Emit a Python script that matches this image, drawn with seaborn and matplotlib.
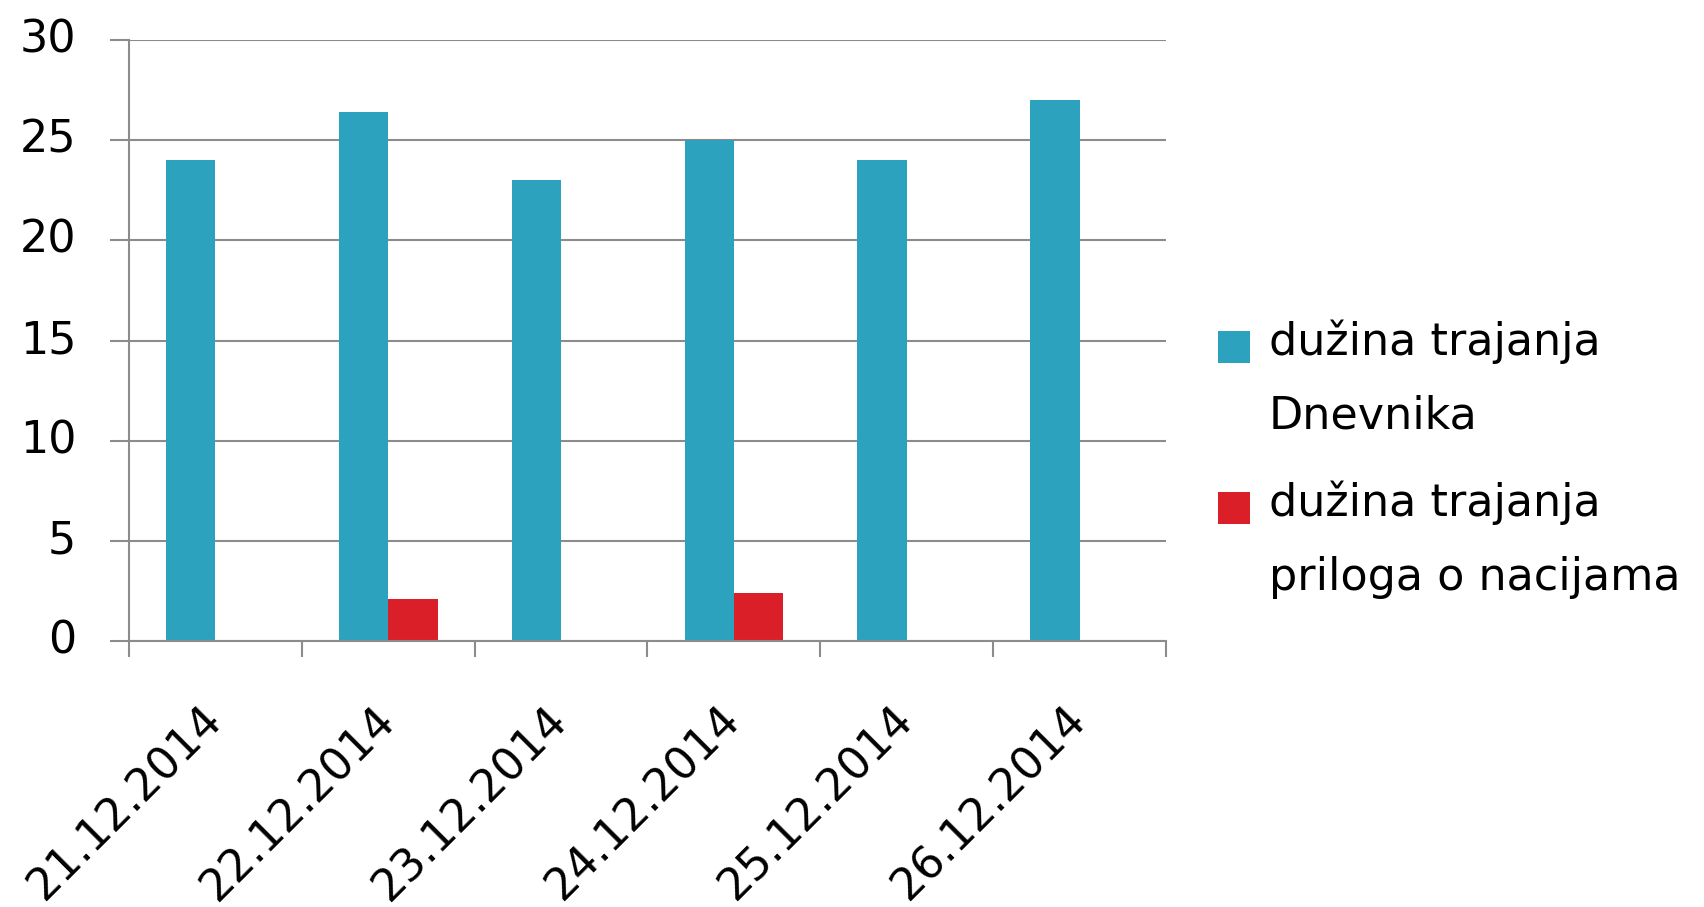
import numpy as np
import pandas as pd
import matplotlib
matplotlib.use("Agg")
import matplotlib.pyplot as plt
import seaborn as sns

dates = ["21.12.2014", "22.12.2014", "23.12.2014", "24.12.2014", "25.12.2014", "26.12.2014"]
series_names = ["dužina trajanja\nDnevnika", "dužina trajanja\npriloga o nacijama"]
dnevnik = [24, 26.4, 23, 25, 24, 27]
prilozi = [0, 2.1, 0, 2.4, 0, 0]
yticks = [0, 5, 10, 15, 20, 25, 30]

colors = ["#2DA2BF", "#DA1F28"]
grid_c = "#8C8C8C"

df = pd.DataFrame({
    "date": dates * 2,
    "series": [series_names[0]] * len(dates) + [series_names[1]] * len(dates),
    "value": dnevnik + prilozi,
})

sns.set_theme(style="white")
plt.rcParams["font.family"] = ["DejaVu Sans"]
plt.rcParams["text.color"] = "black"
plt.rcParams["xtick.labelcolor"] = "black"
plt.rcParams["ytick.labelcolor"] = "black"

fig = plt.figure(figsize=(17.04, 9.07), dpi=100)
ax = fig.add_axes([129 / 1704, 1 - 641 / 907, (1166 - 129) / 1704, (641 - 40) / 907])

sns.barplot(data=df, x="date", y="value", hue="series", palette=colors,
            width=0.571, saturation=1, linewidth=0, ax=ax)

ax.set_xlim(-0.5, len(dates) - 0.5)
ax.set_ylim(0, 30)
ax.set_yticks(yticks)
ax.set_yticklabels([str(v) for v in yticks], fontsize=32)
ax.set_xlabel("")
ax.set_ylabel("")

ax.yaxis.grid(True, color=grid_c, linewidth=1.5)
ax.xaxis.grid(False)
ax.set_axisbelow(True)
for s in ["top", "right"]:
    ax.spines[s].set_visible(False)
for s in ["left", "bottom"]:
    ax.spines[s].set_color(grid_c)
    ax.spines[s].set_linewidth(1.5)

ax.tick_params(axis="y", which="major", length=14, width=1.5, color=grid_c,
               direction="out", pad=24, labelsize=32, left=True, labelcolor="black")
for lab in ax.get_yticklabels():
    lab.set_va("center")
ax.set_xticks(np.arange(-0.5, len(dates), 1), minor=True)
ax.tick_params(axis="x", which="minor", length=11.5, width=1.5, color=grid_c,
               direction="out", bottom=True)
ax.tick_params(axis="x", which="major", length=0, pad=52, labelsize=32, labelcolor="black")
for lab in ax.get_xticklabels():
    lab.set_rotation(45)
    lab.set_ha("right")
    lab.set_va("center")
    lab.set_rotation_mode("anchor")

handles, labels = ax.get_legend_handles_labels()
ax.get_legend().remove()
leg = fig.legend(handles, labels, loc="center left",
                 bbox_to_anchor=(1218 / 1704, 1 - 459 / 907),
                 frameon=False, fontsize=32, handlelength=0.73, handleheight=0.73,
                 handletextpad=0.41, labelspacing=0.97, borderpad=0, borderaxespad=0)
for t in leg.get_texts():
    t.set_linespacing(1.9)
    t.set_color("black")
shift = 24.0
for h in leg.legend_handles:
    h.set_y(h.get_y() + shift)

fig.savefig("out.png", dpi=100, facecolor="white")
